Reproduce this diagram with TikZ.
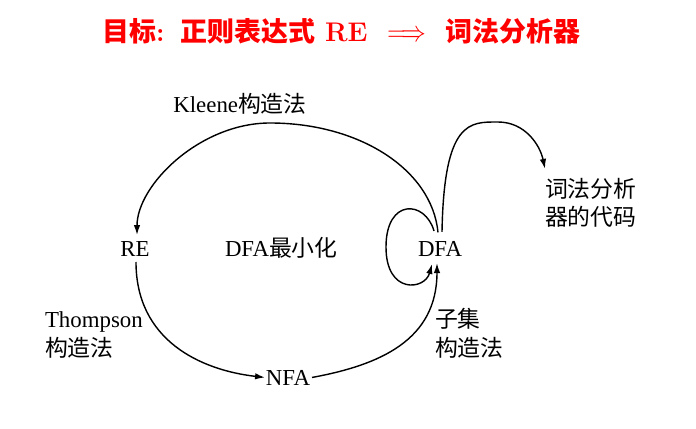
\documentclass[tikz,border=0pt]{standalone}
\usepackage{fontspec}
\usepackage{graphicx}
\usetikzlibrary{arrows.meta,calc}
\newfontfamily\tms{Liberation Serif}
\newfontfamily\cjk{Noto Sans CJK SC}
\begin{document}
\begin{tikzpicture}[x=0.03cm,y=-0.03cm,
  lbl/.style={inner sep=0pt, outer sep=0pt, font=\fontsize{19.5}{24.7}\selectfont\tms},
  conn/.style={line width=1.2pt, -{Latex[length=8.5pt,width=5.5pt]}}]
\useasboundingbox (0,0) rectangle (696,429);
% title
\node[anchor=base west, inner sep=0pt, text=red, font=\fontsize{23}{28}\selectfont\bfseries] (title) at (102,42)
  {{\cjk 目标}:\hspace{14pt}{\cjk 正则表达式}\hspace{8pt}RE\hspace{17pt}\scalebox{0.85}[1]{$\Longrightarrow$}\hspace{17pt}{\cjk 词法分析器}};
% nodes
\node[lbl, anchor=base] (re) at (135,257) {RE};
\node[lbl, anchor=base] (dfa) at (440,257) {DFA};
\node[lbl, anchor=base] (nfa) at (288,385) {NFA};
\node[lbl, anchor=base west] (min) at (225,257) {DFA{\cjk 最小化}};
\node[lbl, anchor=base] (kl) at (240,113) {Kleene{\cjk 构造法}};
\node[lbl, anchor=base west, align=left] (th) at (45,356) {Thompson\\{\cjk 构造法}};
\node[lbl, anchor=base west, align=left] (sub) at (435,356) {{\cjk 子集}\\{\cjk 构造法}};
\node[lbl, anchor=base west, align=left] (code) at (545,226) {{\cjk 词法分析}\\{\cjk 器的代码}};
% connectors
\draw[conn] ($(dfa.north)+(-2,-9.5)$) .. controls (432,170) and (360,123) .. (270,123)
  .. controls (200,123) and (137,185) .. ($(re.north)+(2,-7)$);
\draw[conn] ($(dfa.north)+(-6,-11)$) .. controls (425,200) and (386,198) .. (386,247)
  .. controls (386,295) and (425,290) .. ($(dfa.south)+(-8,7)$);
\draw[conn] ($(dfa.north)+(2,-10)$) .. controls (444,120) and (470,122) .. (498,122)
  .. controls (525,122) and (540,145) .. ($(code.north west)+(0,-9)$);
\draw[conn] ($(re.south)+(1,5)$) .. controls (136,340) and (200,370) .. ($(nfa.west)+(-1,0)$);
\draw[conn] ($(nfa.east)+(2,0)$) .. controls (380,365) and (437,340) .. ($(dfa.south)+(-3,6)$);
\end{tikzpicture}
\end{document}
